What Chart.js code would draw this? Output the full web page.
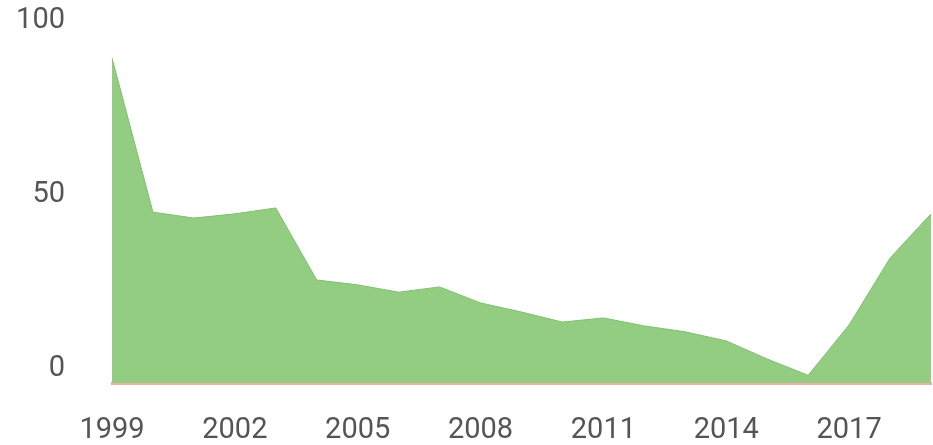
<!DOCTYPE html>
<html>
<head>
<meta charset="utf-8">
<script src="https://cdn.jsdelivr.net/npm/chart.js@4"></script>
<style>
    body{margin:0;background:#fff;}
    #caixa{width:933px;height:445px;position:relative;}
</style>
</head>
<body>
<div id="caixa"><canvas id="grafico"></canvas></div>
<script>
// dados
const anos = ["1999","2000","2001","2002","2003","2004","2005","2006","2007","2008",
              "2009","2010","2011","2012","2013","2014","2015","2016","2017","2018","2019"];
const valores = [93.4,49.1,47.4,48.6,50.3,29.6,28.2,26.1,27.6,23.0,
                 20.4,17.5,18.7,16.4,14.7,12.1,6.9,2.2,16.7,35.9,48.6];
const marcasY = [0,50,100];

const fonte = {family:"Roboto", size:29};

new Chart(document.getElementById("grafico"),{
    type:'line',
    data:{
        labels:anos,
        datasets:[{
            data:valores,
            fill:'origin',
            backgroundColor:'rgb(146,205,130)',
            borderColor:'rgb(128,192,112)',
            borderWidth:1,
            pointRadius:0,
            tension:0
        }]
    },
    options:{
        responsive:true,
        maintainAspectRatio:false,
        animation:false,
        layout:{padding:{top:35,right:2,left:0,bottom:0}},
        plugins:{legend:{display:false},tooltip:{enabled:false}},
        scales:{
            x:{
                grid:{display:false,drawTicks:false},
                border:{display:true,color:'rgb(240,175,165)',width:3},
                ticks:{
                    autoSkip:false,
                    maxRotation:0,
                    padding:30,
                    color:'#555',
                    font:fonte,
                    callback:(v,i)=> i%3===0 ? anos[i] : ''
                },
                afterFit:(s)=>{
                    s.height=62;
                    s.paddingLeft=0; s.paddingRight=0;
                }
            },
            y:{
                min:0,
                max:100,
                grid:{display:false,drawTicks:false},
                border:{display:false},
                afterBuildTicks:(s)=>{s.ticks=marcasY.map(v=>({value:v}));},
                ticks:{
                    padding:47,
                    labelOffset:-14,
                    color:'#555',
                    font:fonte
                },
                afterFit:(s)=>{
                    s.width=112;
                    s.paddingTop=0; s.paddingBottom=0;
                }
            }
        }
    }
});
</script>
</body>
</html>
